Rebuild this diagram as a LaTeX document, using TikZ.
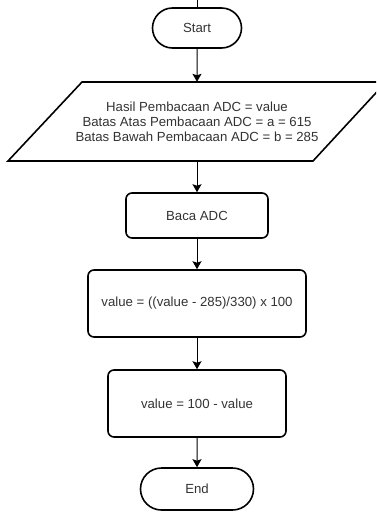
\documentclass[tikz,border=0pt]{standalone}
\usepackage{fontspec}
\setmainfont{Liberation Sans}
\usetikzlibrary{shapes.misc,arrows.meta}
\definecolor{txt}{HTML}{333333}
\begin{document}
\begin{tikzpicture}[x=1pt,y=-1pt,
  every node/.style={font=\fontsize{13.2}{15}\selectfont, text=txt, align=center, inner sep=0pt},
  term/.style={rounded rectangle, draw=black, line width=1.6pt},
  procbox/.style={rectangle, rounded corners=6pt, draw=black, line width=1.6pt},
  conn/.style={-{Stealth[length=8pt,width=9pt,inset=1.5pt]}, line width=1pt, black}]
\useasboundingbox (0,0) rectangle (376,512);
\clip (0,0) rectangle (376,512);
\coordinate (top) at (197,0);
\node[term, minimum width=89pt, minimum height=40pt] (start) at (197,28) {Start};
\node[minimum width=230pt, minimum height=79pt] (para) at (197,121.5)
  {Hasil Pembacaan ADC = value\\Batas Atas Pembacaan ADC = a = 615\\Batas Bawah Pembacaan ADC = b = 285};
\draw[line width=1.6pt, line join=miter] (82,82) -- (386,82) -- (313,161) -- (8,161) -- cycle;
\node[procbox, minimum width=142pt, minimum height=45pt] (baca) at (197,215.5) {Baca ADC};
\node[procbox, minimum width=218pt, minimum height=67pt] (calc) at (197,303.5) {value = ((value - 285)/330) x 100};
\node[procbox, minimum width=178pt, minimum height=67pt] (inv) at (197,403.5) {value = 100 - value};
\node[term, minimum width=113pt, minimum height=42pt] (end) at (197,489) {End};
\draw[line width=1pt] (top) -- (start.north);
\draw[conn] (start) -- (para.north);
\draw[conn] (para.south) -- (baca);
\draw[conn] (baca) -- (calc);
\draw[conn] (calc) -- (inv);
\draw[conn] (inv) -- (end);
\end{tikzpicture}
\end{document}
